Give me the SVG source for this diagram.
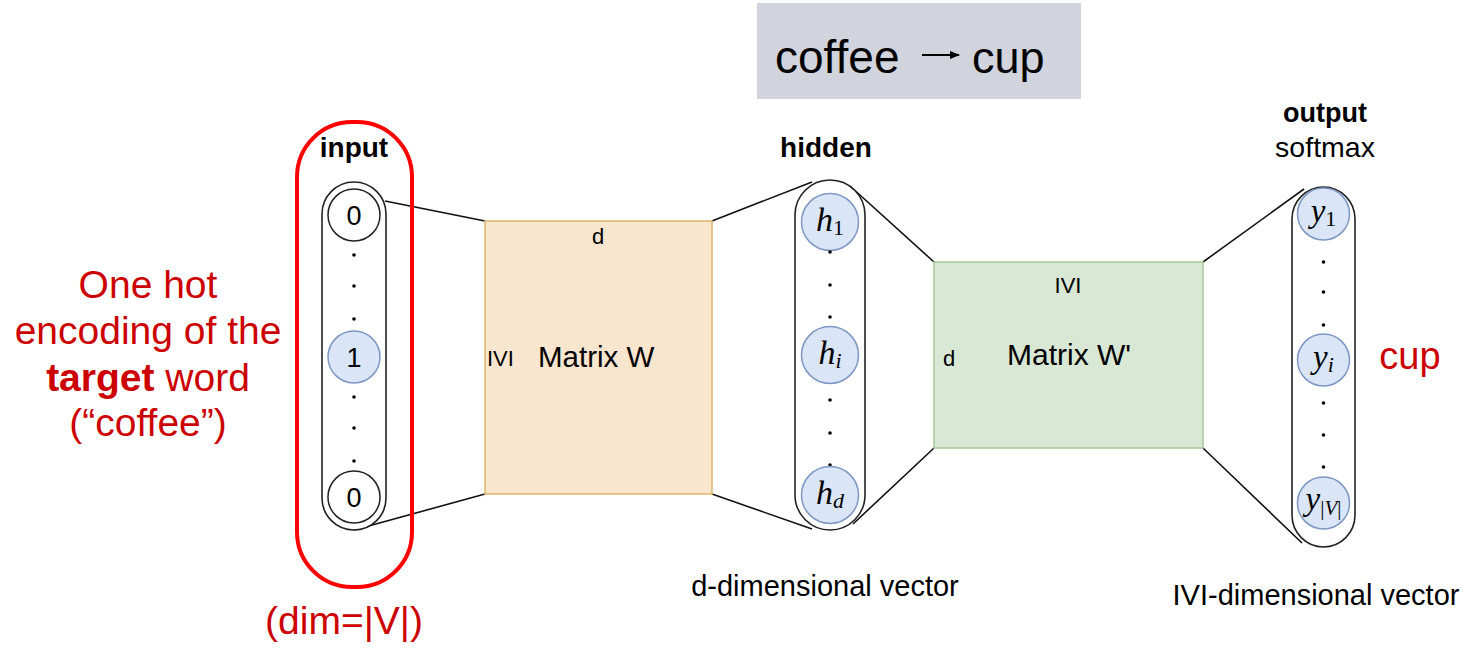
<svg xmlns="http://www.w3.org/2000/svg" width="1466" height="650" viewBox="0 0 1466 650">
<defs>
<style>
.t{font-family:"Liberation Sans",Arial,sans-serif;fill:#000}
.red{font-family:"Liberation Sans",Arial,sans-serif;fill:#cc0000}
.col{fill:#fff;stroke:#222;stroke-width:1.6}
.wc{fill:#fff;stroke:#222;stroke-width:1.5}
.bc{fill:#dae6f8;stroke:#7d97c2;stroke-width:1.5}
.dot{fill:#000}
.ln{stroke:#111;stroke-width:1.6;fill:none}
.m{font-family:"Liberation Serif","Times New Roman",serif;font-style:italic;fill:#000}
.sub{font-style:normal}
</style>
<marker id="ah" markerWidth="10" markerHeight="8" refX="9" refY="4" orient="auto" markerUnits="userSpaceOnUse">
<path d="M0,0 L10,4 L0,8 Z" fill="#000"/>
</marker>
</defs>
<rect width="1466" height="650" fill="#fff"/>

<g id="title">
<rect x="757" y="3" width="324" height="96" fill="#d1d4dc"/>
<text class="t" x="775" y="73" font-size="46">coffee</text>
<line x1="922" y1="55" x2="959" y2="55" stroke="#000" stroke-width="2" marker-end="url(#ah)"/>
<text class="t" x="972" y="73" font-size="45">cup</text>
</g>

<g id="connectors">
<line class="ln" x1="385" y1="201" x2="485" y2="221"/>
<line class="ln" x1="354" y1="530" x2="485" y2="494"/>
<line class="ln" x1="712" y1="221" x2="812" y2="182"/>
<line class="ln" x1="712" y1="494" x2="812" y2="529"/>
<line class="ln" x1="850" y1="186" x2="934" y2="262"/>
<line class="ln" x1="853" y1="524" x2="934" y2="448"/>
<line class="ln" x1="1203" y1="262" x2="1304" y2="189"/>
<line class="ln" x1="1203" y1="448" x2="1302" y2="543"/>
</g>

<g id="target-annotation">
<rect x="297" y="122" width="115" height="465" rx="55" ry="55" fill="none" stroke="#ff0000" stroke-width="4"/>
<text class="red" x="148" y="298" font-size="39" text-anchor="middle">One hot</text>
<text class="red" x="148" y="344" font-size="39" text-anchor="middle">encoding of the</text>
<text class="red" x="148" y="391" font-size="39" text-anchor="middle"><tspan font-weight="bold">target</tspan> word</text>
<text class="red" x="148" y="436" font-size="39" text-anchor="middle">(“coffee”)</text>
<text class="red" x="344" y="634" font-size="39" text-anchor="middle">(dim=|V|)</text>
</g>

<g id="input">
<text class="t" x="354" y="157" font-size="28" font-weight="bold" text-anchor="middle">input</text>
<rect class="col" x="322" y="182" width="64" height="348" rx="32" ry="32"/>
<circle class="wc" cx="354" cy="215" r="26"/>
<text class="t" x="354" y="225" font-size="27" text-anchor="middle">0</text>
<circle class="dot" cx="354" cy="255" r="1.8"/>
<circle class="dot" cx="354" cy="286" r="1.8"/>
<circle class="dot" cx="354" cy="319" r="1.8"/>
<circle class="bc" cx="354" cy="357" r="26"/>
<text class="t" x="354" y="367" font-size="27" text-anchor="middle">1</text>
<circle class="dot" cx="354" cy="397" r="1.8"/>
<circle class="dot" cx="354" cy="428" r="1.8"/>
<circle class="dot" cx="354" cy="461" r="1.8"/>
<circle class="wc" cx="354" cy="497" r="26"/>
<text class="t" x="354" y="507" font-size="27" text-anchor="middle">0</text>
</g>

<g id="matrix-w">
<rect x="485" y="221" width="227" height="273" fill="#fae5cf" stroke="#dcb46a" stroke-width="1.5"/>
<text class="t" x="598" y="244" font-size="22" text-anchor="middle">d</text>
<text class="t" x="487" y="366" font-size="22">IVI</text>
<text class="t" x="538" y="367" font-size="29.5">Matrix W</text>
</g>

<g id="hidden">
<text class="t" x="826" y="157" font-size="28" font-weight="bold" text-anchor="middle">hidden</text>
<rect class="col" x="795" y="180" width="70" height="350" rx="35" ry="35"/>
<circle class="bc" cx="830" cy="222" r="28.5"/>
<text class="m" x="830" y="231" font-size="34" text-anchor="middle">h<tspan class="sub" font-size="22" dy="4">1</tspan></text>
<circle class="dot" cx="830" cy="252" r="1.8"/>
<circle class="dot" cx="830" cy="285" r="1.8"/>
<circle class="dot" cx="830" cy="317" r="1.8"/>
<circle class="bc" cx="830" cy="355" r="28.5"/>
<text class="m" x="830" y="364" font-size="34" text-anchor="middle">h<tspan font-size="22" dy="4">i</tspan></text>
<circle class="dot" cx="830" cy="400" r="1.8"/>
<circle class="dot" cx="830" cy="433" r="1.8"/>
<circle class="dot" cx="830" cy="465" r="1.8"/>
<circle class="bc" cx="830" cy="495" r="28.5"/>
<text class="m" x="830" y="504" font-size="34" text-anchor="middle">h<tspan font-size="22" dy="4">d</tspan></text>
<text class="t" x="825" y="596" font-size="29" text-anchor="middle">d-dimensional vector</text>
</g>

<g id="matrix-w-prime">
<rect x="934" y="262" width="269" height="186" fill="#d9e8d5" stroke="#a6c596" stroke-width="1.5"/>
<text class="t" x="1068" y="293" font-size="22" text-anchor="middle">IVI</text>
<text class="t" x="943" y="366" font-size="22">d</text>
<text class="t" x="1007" y="365" font-size="30">Matrix W'</text>
</g>

<g id="output">
<text class="t" x="1325" y="122" font-size="27" font-weight="bold" text-anchor="middle">output</text>
<text class="t" x="1325" y="157" font-size="28.5" text-anchor="middle">softmax</text>
<rect class="col" x="1292" y="187" width="63" height="360" rx="32" ry="32"/>
<circle class="bc" cx="1323.5" cy="214" r="26"/>
<text class="m" x="1323.5" y="222" font-size="33" text-anchor="middle">y<tspan class="sub" font-size="22" dy="4">1</tspan></text>
<circle class="dot" cx="1323.5" cy="262" r="1.8"/>
<circle class="dot" cx="1323.5" cy="292" r="1.8"/>
<circle class="dot" cx="1323.5" cy="325" r="1.8"/>
<circle class="bc" cx="1323.5" cy="360" r="26"/>
<text class="m" x="1323.5" y="368" font-size="33" text-anchor="middle">y<tspan font-size="22" dy="4">i</tspan></text>
<circle class="dot" cx="1323.5" cy="403" r="1.8"/>
<circle class="dot" cx="1323.5" cy="435" r="1.8"/>
<circle class="dot" cx="1323.5" cy="467" r="1.8"/>
<circle class="bc" cx="1323.5" cy="503" r="26"/>
<text class="m" x="1323.5" y="510" font-size="33" text-anchor="middle">y<tspan font-size="21" dy="5" font-style="normal">|</tspan><tspan font-size="21">V</tspan><tspan font-size="21" font-style="normal">|</tspan></text>
<text class="red" x="1410" y="369" font-size="38" text-anchor="middle">cup</text>
<text class="t" x="1316" y="605" font-size="29" text-anchor="middle">IVI-dimensional vector</text>
</g>
</svg>
